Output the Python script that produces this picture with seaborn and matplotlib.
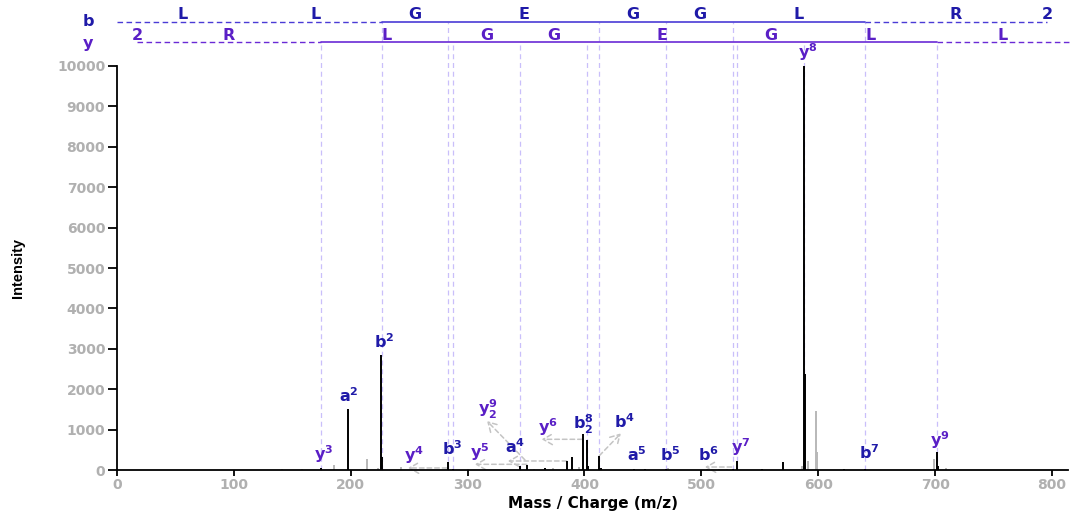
import matplotlib
matplotlib.use("Agg")
import matplotlib.pyplot as plt
import seaborn as sns

# matched (annotated) fragment peaks
MATCHED_MZ = [174.3, 197.9, 225.9, 227.0, 283.5, 287.2, 344.8, 350.8, 366.2,
              385.2, 389.6, 398.8, 401.9, 403.0, 412.7, 413.7, 442.3, 452.0,
              469.7, 526.8, 530.7, 552.1, 570.1, 588.1, 589.0, 622.0, 639.9,
              701.3, 702.3]
MATCHED_INT = [60, 1510, 2850, 310, 195, 30, 110, 135, 50,
               230, 310, 900, 750, 90, 340, 60, 25, 20,
               25, 15, 220, 35, 210, 10000, 2370, 25, 20,
               435, 90]

# unmatched peaks (grey)
UNMATCHED_MZ = [141.0, 158.0, 185.8, 213.6, 223.7, 243.0, 300.0, 315.0, 357.0,
                373.0, 395.0, 471.5, 505.0, 515.0, 522.0, 586.2, 591.0, 597.8,
                598.6, 699.3, 709.5]
UNMATCHED_INT = [30, 20, 135, 280, 60, 70, 25, 20, 30,
                 40, 80, 50, 20, 35, 30, 100, 230, 1470,
                 450, 270, 60]

# sequence ladders (m/z of each cleavage)
B_LADDER = [0.0, 113.1, 226.5, 283.5, 412.7, 469.7, 526.8, 639.9, 796.0]
B_RESIDUES = ["L", "L", "G", "E", "G", "G", "L", "R"]
B_SEEN = (2, 7)
Y_LADDER = [17.3, 174.3, 287.2, 344.8, 401.9, 530.7, 588.1, 701.3, 815.0]
Y_RESIDUES = ["R", "L", "G", "G", "E", "G", "L", "L"]
Y_SEEN = (1, 7)
CHARGE = "2"

# ion labels: series, number, subscript (charge), label position (m/z, intensity)
ION_LABELS = [
    ("y", "3", None, 177.1, 396),
    ("a", "2", None, 198.5, 1832),
    ("b", "2", None, 228.4, 3168),
    ("y", "4", None, 254.1, 371),
    ("b", "3", None, 286.6, 520),
    ("y", "5", None, 310.6, 446),
    ("y", "9", "2", 317.4, 1510),
    ("a", "4", None, 340.5, 569),
    ("y", "6", None, 368.8, 1064),
    ("b", "8", "2", 398.7, 1139),
    ("b", "4", None, 433.8, 1188),
    ("a", "5", None, 444.9, 371),
    ("b", "5", None, 473.2, 371),
    ("b", "6", None, 505.7, 371),
    ("y", "7", None, 533.9, 569),
    ("y", "8", None, 591.2, 10346),
    ("b", "7", None, 643.4, 421),
    ("y", "9", None, 704.2, 743),
]

# leader arrows from peak to displaced label: (start mz, start int, end mz, end int)
LEADERS = [
    (282.3, 50, 249.0, 50),
    (350.6, 141, 306.3, 141),
    (349.1, 248, 316.6, 1213),
    (384.8, 223, 334.5, 223),
    (398.1, 760, 363.4, 760),
    (412.7, 354, 431.2, 908),
    (526.0, 74, 503.1, 74),
]

B_TEXT = "#1f1aa8"
Y_TEXT = "#5a1fc6"
B_LINE = "#4a3bd6"
Y_LINE = "#6a2ad6"
GUIDE = "#c9bffa"
GREY = "#b8b8b8"

sns.set_theme(style="ticks")
plt.rcParams["font.family"] = ["DejaVu Sans"]
plt.rcParams["font.weight"] = "bold"
plt.rcParams["mathtext.fontset"] = "dejavusans"

fig = plt.figure(figsize=(10.76, 5.16), dpi=100)
ax = fig.add_axes([117 / 1076, 46 / 516, 951 / 1076, 404 / 516])
ax.set_xlim(0, 813.7)
ax.set_ylim(0, 10000)

b_row, y_row = 11100, 10585

# guide lines for observed ions
b_obs = B_LADDER[B_SEEN[0]:B_SEEN[1] + 1]
y_obs = Y_LADDER[Y_SEEN[0]:Y_SEEN[1] + 1]
for xs, top in ((b_obs, b_row), (y_obs, y_row)):
    lc = ax.vlines(xs, 0, top, colors=GUIDE, linewidth=0.9,
                   linestyles=(0, (4, 3)), zorder=1)
    lc.set_clip_on(False)

# peaks
ax.vlines(UNMATCHED_MZ, 0, UNMATCHED_INT, colors=GREY, linewidth=1.4, zorder=2)
ax.vlines(MATCHED_MZ, 0, MATCHED_INT, colors="black", linewidth=1.4, zorder=3)

# sequence ladders
for ladder, seen, row, lcol, tcol, residues in (
        (B_LADDER, B_SEEN, b_row, B_LINE, B_TEXT, B_RESIDUES),
        (Y_LADDER, Y_SEEN, y_row, Y_LINE, Y_TEXT, Y_RESIDUES)):
    lo, hi = ladder[seen[0]], ladder[seen[1]]
    ax.plot([ladder[0], lo], [row, row], color=lcol, lw=1.0,
            ls=(0, (4, 2.5)), clip_on=False)
    ax.plot([lo, hi], [row, row], color=lcol, lw=1.2, clip_on=False)
    ax.plot([hi, ladder[-1]], [row, row], color=lcol, lw=1.0,
            ls=(0, (4, 2.5)), clip_on=False)
    for i, res in enumerate(residues):
        mid = (ladder[i] + ladder[i + 1]) / 2
        ax.text(mid, row + 60, res, color=tcol, fontsize=11.5, fontweight="bold",
                ha="center", va="baseline", clip_on=False)

ax.text(B_LADDER[-1], b_row + 60, CHARGE, color=B_TEXT, fontsize=11.5,
        fontweight="bold", ha="center", va="baseline")
ax.text(Y_LADDER[0], y_row + 60, CHARGE, color=Y_TEXT, fontsize=11.5,
        fontweight="bold", ha="center", va="baseline")
ax.text(-24.8, b_row, "b", color=B_TEXT, fontsize=11.5, fontweight="bold",
        ha="center", va="center")
ax.text(-24.8, y_row - 40, "y", color=Y_TEXT, fontsize=11.5, fontweight="bold",
        ha="center", va="center")

# leader arrows
for x0, y0, x1, y1 in LEADERS:
    ax.annotate("", xy=(x1, y1), xytext=(x0, y0),
                arrowprops=dict(arrowstyle="->,head_length=0.6,head_width=0.35",
                                color="#c4c4c4", lw=1.1, ls=(0, (3, 2)),
                                shrinkA=0, shrinkB=0, mutation_scale=11),
                zorder=2)

# ion labels
for series, num, sub, lx, ly in ION_LABELS:
    color = Y_TEXT if series == "y" else B_TEXT
    if sub:
        s = r"$\mathbf{%s}_{\mathbf{%s}}^{\mathbf{%s}}$" % (series, sub, num)
    else:
        s = r"$\mathbf{%s}^{\mathbf{%s}}$" % (series, num)
    ax.text(lx, ly, s, color=color, fontsize=11.5, ha="center", va="center",
            clip_on=False, zorder=4)

sns.despine(ax=ax)
ax.spines["left"].set_linewidth(1.3)
ax.spines["bottom"].set_linewidth(1.3)
ax.spines["left"].set_color("black")
ax.spines["bottom"].set_color("black")

ax.set_xticks(range(0, 801, 100))
ax.set_yticks(range(0, 10001, 1000))
ax.tick_params(axis="x", length=4, width=1.3, pad=1.5, labelsize=10,
               labelcolor="#b0b0b0", color="black")
ax.tick_params(axis="y", length=6.5, width=1.3, pad=2, labelsize=10,
               labelcolor="#b0b0b0", color="black")
for lab in ax.get_xticklabels() + ax.get_yticklabels():
    lab.set_fontweight("bold")

ax.set_xlabel("Mass / Charge (m/z)", fontsize=11, fontweight="bold", color="black")
ax.xaxis.set_label_coords(0.5, -0.064)
ax.set_ylabel("Intensity", fontsize=10.5, fontweight="bold", color="black",
              family=["Liberation Sans", "DejaVu Sans"])
ax.yaxis.set_label_coords(-0.097, 0.5)

fig.savefig("out.png", dpi=100)
